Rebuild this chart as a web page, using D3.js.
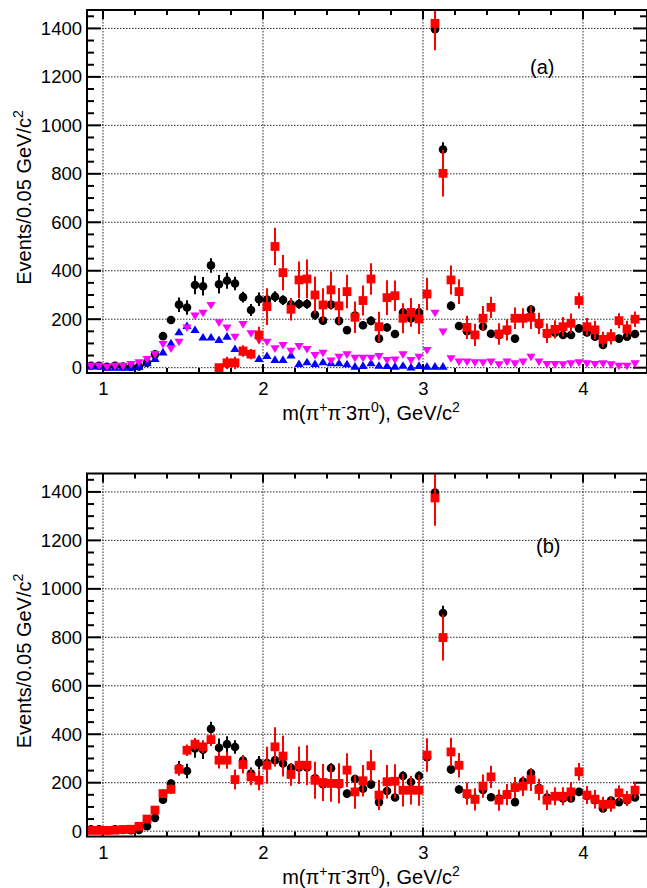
<!DOCTYPE html>
<html><head><meta charset="utf-8">
<script src="https://cdn.jsdelivr.net/npm/d3@7"></script>
<style>
body{margin:0;background:#fff;}
text{font-family:"Liberation Sans",Arial,Helvetica,sans-serif;fill:#000;}
</style>
</head><body>
<svg id="chart" width="647" height="888"></svg>
<script>
// ---------- data (bin centres in GeV/c^2, 0.05 GeV bins) ----------
const massCenters = [0.925,0.975,1.025,1.075,1.125,1.175,1.225,1.275,1.325,1.375,
 1.425,1.475,1.525,1.575,1.625,1.675,1.725,1.775,1.825,1.875,
 1.925,1.975,2.025,2.075,2.125,2.175,2.225,2.275,2.325,2.375,
 2.425,2.475,2.525,2.575,2.625,2.675,2.725,2.775,2.825,2.875,
 2.925,2.975,3.025,3.075,3.125,3.175,3.225,3.275,3.325,3.375,
 3.425,3.475,3.525,3.575,3.625,3.675,3.725,3.775,3.825,3.875,
 3.925,3.975,4.025,4.075,4.125,4.175,4.225,4.275,4.325];

// black circles (same in both panels)
const blackCounts = [8,8,4,8,5,4,5,20,55,130,
 197,260,248,341,336,422,344,359,347,291,
 238,282,281,293,279,261,263,263,218,194,
 260,193,155,215,175,193,120,166,139,228,
 203,228,305,1397,900,255,172,150,135,170,
 140,135,153,120,205,240,178,139,144,135,
 135,162,145,128,94,126,120,128,139];
const blackErrors = [3,3,3,3,3,3,3,5,8,15,
 16,30,30,38,38,30,38,33,28,22,
 25,28,22,22,20,20,20,20,20,18,
 20,18,16,18,16,18,15,16,15,18,
 17,18,20,37,30,18,16,15,15,16,
 15,15,15,14,17,18,16,15,15,15,
 15,16,15,14,12,14,14,14,15];

// panel (a): magenta down-triangles (all bins)
const magentaCounts = [8,8,4,8,8,15,22,36,56,98,
 80,107,166,215,227,259,187,166,128,180,
 142,114,107,80,94,70,89,77,52,62,
 30,45,55,41,41,41,48,32,34,55,
 32,45,73,227,149,39,25,25,22,22,
 25,14,25,18,25,45,25,15,15,14,
 18,22,18,15,18,14,8,8,18];

// panel (a): blue up-triangles (first 45 bins, up to 3.125)
const blueCounts = [5,5,0,0,0,0,4,18,36,63,
 100,146,172,155,124,124,114,128,77,63,
 59,36,48,32,32,50,15,22,15,22,
 18,18,14,4,7,18,8,7,4,8,
 1,7,4,4,4];

// panel (a): red squares, from 1.725 (bin index 16) on
const redAStart = 16;
const redACounts = [0,20,20,69,56,135,252,500,392,241,
 362,366,300,259,321,255,314,208,277,366,
 169,289,297,204,228,201,304,1421,802,362,
 314,166,135,204,249,139,156,204,204,208,
 183,142,158,169,183,277,169,156,117,128,
 194,160,200];
const redAErrors = [8,25,25,24,21,34,76,77,73,46,
 76,80,76,69,76,74,69,65,62,65,
 62,72,63,62,59,62,67,111,96,60,
 51,48,46,51,44,44,44,44,41,48,
 44,40,38,40,41,33,36,38,31,32,
 31,34,32];

// panel (b): red squares (all bins)
const redBCounts = [3,3,3,4,7,8,20,50,87,155,
 173,255,334,359,348,378,293,293,213,275,
 224,210,272,348,310,234,272,272,210,201,
 197,197,252,162,208,270,149,204,206,169,
 169,169,314,1375,799,327,272,155,131,186,
 224,128,151,180,186,213,172,128,144,144,
 162,245,149,132,111,111,158,135,169];
const redBErrors = [3,3,3,3,3,3,5,8,12,18,
 20,24,24,25,25,27,34,35,41,37,
 34,41,76,81,84,47,77,83,76,76,
 76,83,70,69,65,65,62,69,70,67,
 59,64,69,115,95,59,51,46,46,48,
 46,44,44,44,41,47,44,41,37,37,
 41,36,37,38,31,31,32,31,34];

// axis ticks
const xMajorTicks = [1,2,3,4];
const xMinorTicks = [1.0,1.2,1.4,1.6,1.8,2.0,2.2,2.4,2.6,2.8,3.0,3.2,3.4,3.6,3.8,4.0,4.2];
const yMajorTicks = [0,200,400,600,800,1000,1200,1400];
const yMinorTicks = [50,100,150,250,300,350,450,500,550,650,700,750,850,900,950,1050,1100,1150,1250,1300,1350,1450];
const xDomain = [0.9,4.4];
const yDomain = [-22,1476];

// ---------- drawing ----------
const svg = d3.select("#chart");
const left = 87, right = 647;

const panels = [
  {id:"a", top:10, bottom:373, label:"(a)", labelX:530, labelY:74,
   series:[
     {type:"circle", color:"#000", x:massCenters, y:blackCounts, e:blackErrors},
     {type:"up", color:"#0000ff", x:massCenters.slice(0,blueCounts.length), y:blueCounts},
     {type:"down", color:"#ff00ff", x:massCenters, y:magentaCounts},
     {type:"square", color:"#ff0000", x:massCenters.slice(redAStart), y:redACounts, e:redAErrors}
   ]},
  {id:"b", top:473.5, bottom:836.5, label:"(b)", labelX:536, labelY:553,
   series:[
     {type:"circle", color:"#000", x:massCenters, y:blackCounts, e:blackErrors},
     {type:"square", color:"#ff0000", x:massCenters, y:redBCounts, e:redBErrors}
   ]}
];

// parts: [string, isSuperscript]
function richText(sel, parts, supSize){
  let shift = 0;
  parts.forEach(p=>{
    const t = sel.append("tspan").text(p[0]);
    const target = p[1] ? -8 : 0;
    if (target !== shift) { t.attr("dy", target - shift); shift = target; }
    if (p[1]) t.attr("font-size", supSize);
  });
}

const x = d3.scaleLinear().domain(xDomain).range([left,right]);

panels.forEach(P=>{
  const y = d3.scaleLinear().domain(yDomain).range([P.bottom,P.top]);
  const g = svg.append("g");
  const clipId = "clip"+P.id;
  svg.append("clipPath").attr("id",clipId).append("rect")
    .attr("x",left).attr("y",P.top).attr("width",right-left).attr("height",P.bottom-P.top);

  // grid
  const grid = g.append("g").attr("stroke","#000").attr("stroke-width",1)
    .attr("stroke-dasharray","1.5,1.5").attr("opacity",0.85);
  xMajorTicks.forEach(t=>grid.append("line").attr("x1",x(t)).attr("x2",x(t))
    .attr("y1",P.top).attr("y2",P.bottom));
  yMajorTicks.forEach(t=>grid.append("line").attr("x1",left).attr("x2",right)
    .attr("y1",y(t)).attr("y2",y(t)));

  // ticks (inward, on all four sides)
  const tk = g.append("g").attr("stroke","#000").attr("stroke-width",2);
  xMinorTicks.forEach(t=>{
    const L = xMajorTicks.includes(Math.round(t*10)/10) ? 9 : 5;
    tk.append("line").attr("x1",x(t)).attr("x2",x(t)).attr("y1",P.bottom).attr("y2",P.bottom-L);
    tk.append("line").attr("x1",x(t)).attr("x2",x(t)).attr("y1",P.top).attr("y2",P.top+L);
  });
  yMajorTicks.forEach(t=>{
    tk.append("line").attr("x1",left).attr("x2",left+14).attr("y1",y(t)).attr("y2",y(t));
    tk.append("line").attr("x1",right).attr("x2",right-14).attr("y1",y(t)).attr("y2",y(t));
  });
  yMinorTicks.forEach(t=>{
    tk.append("line").attr("x1",left).attr("x2",left+7).attr("y1",y(t)).attr("y2",y(t));
    tk.append("line").attr("x1",right).attr("x2",right-7).attr("y1",y(t)).attr("y2",y(t));
  });

  // tick labels via d3 axes
  const ya = g.append("g").attr("transform",`translate(${left},0)`)
    .call(d3.axisLeft(y).tickValues(yMajorTicks).tickSize(0).tickPadding(5).tickFormat(d3.format("d")));
  ya.select(".domain").remove();
  ya.selectAll("text").attr("font-size",18.5).attr("font-family","Liberation Sans, Arial, sans-serif").attr("fill","#000");
  const xa = g.append("g").attr("transform",`translate(0,${P.bottom})`)
    .call(d3.axisBottom(x).tickValues(xMajorTicks).tickSize(0).tickPadding(0).tickFormat(d3.format("d")));
  xa.select(".domain").remove();
  xa.selectAll("text").attr("font-size",18.5).attr("font-family","Liberation Sans, Arial, sans-serif")
    .attr("fill","#000").attr("dy",null).attr("y",22);

  // data
  const dg = g.append("g").attr("clip-path",`url(#${clipId})`);
  P.series.forEach(S=>{
    const pts = S.y.map((v,i)=>({m:S.x[i], v:v, e:S.e?S.e[i]:0}));
    if (S.e) {
      dg.append("g").attr("stroke",S.color).attr("stroke-width",2)
        .selectAll("line").data(pts).join("line")
        .attr("x1",d=>x(d.m)).attr("x2",d=>x(d.m))
        .attr("y1",d=>y(d.v-d.e)).attr("y2",d=>y(d.v+d.e));
    }
    const mg = dg.append("g").attr("fill",S.color);
    if (S.type==="circle") {
      mg.selectAll("circle").data(pts).join("circle")
        .attr("cx",d=>x(d.m)).attr("cy",d=>y(d.v)).attr("r",4.3);
    } else if (S.type==="square") {
      mg.selectAll("rect").data(pts).join("rect")
        .attr("x",d=>x(d.m)-4.4).attr("y",d=>y(d.v)-4.4).attr("width",8.8).attr("height",8.8);
    } else {
      const path = S.type==="up" ? "M-4.6,3L4.6,3L0,-4.6Z" : "M-4.6,-3L4.6,-3L0,4.6Z";
      mg.selectAll("path").data(pts).join("path")
        .attr("d",path).attr("transform",d=>`translate(${x(d.m)},${y(d.v)})`);
    }
  });

  // frame
  g.append("rect").attr("x",left).attr("y",P.top).attr("width",right-left).attr("height",P.bottom-P.top)
    .attr("fill","none").attr("stroke","#000").attr("stroke-width",2);

  // titles
  const xt = g.append("text").attr("x",(left+right)/2+4).attr("y",P.bottom+47)
    .attr("text-anchor","middle").attr("font-size",20);
  richText(xt,[["m(\u03c0",0],["+",1],["\u03c0",0],["-",1],["3\u03c0",0],["0",1],["), GeV/c",0],["2",1]],14);

  const cy = (P.top+P.bottom)/2 + 6;
  const yt = g.append("text").attr("transform",`translate(31,${cy}) rotate(-90)`)
    .attr("text-anchor","middle").attr("font-size",20);
  richText(yt,[["Events/0.05 GeV/c",0],["2",1]],14);

  g.append("text").attr("x",P.labelX).attr("y",P.labelY).attr("font-size",20).text(P.label);
});
</script>
</body></html>
